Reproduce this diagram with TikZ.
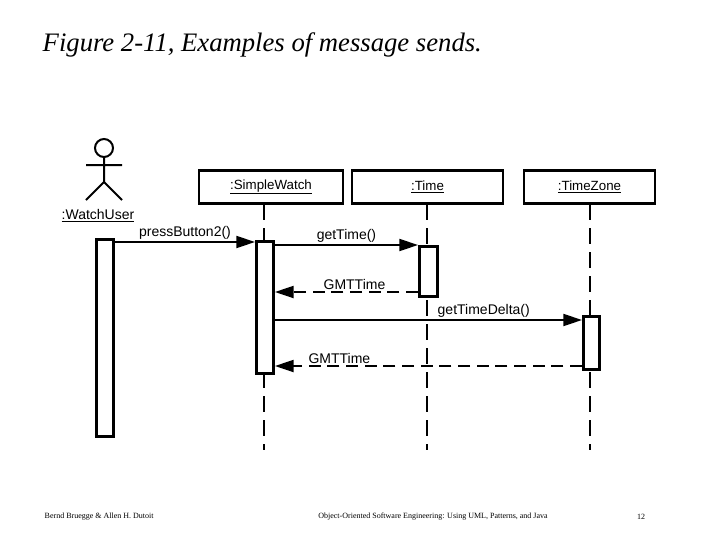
\documentclass[tikz,border=0pt]{standalone}
\usepackage{fontspec}
\setmainfont{Liberation Sans}
\newfontfamily\serif{Liberation Serif}
\usetikzlibrary{arrows.meta}
\begin{document}
\begin{tikzpicture}[x=0.75pt,y=-0.75pt,
  obj/.style={draw,line width=2.2pt,inner sep=0},
  act/.style={draw,line width=2.2pt,fill=white},
  life/.style={line width=2.2pt,dash pattern=on 12pt off 6pt},
  msg/.style={line width=1.5pt,-{Triangle[length=14pt,width=9pt]}},
  ret/.style={line width=1.5pt,dash pattern=on 9pt off 5pt,-{Triangle[length=14pt,width=9pt]}},
  lbl/.style={font=\fontsize{10.5}{12}\selectfont,inner sep=1pt},
  foot/.style={font=\serif\fontsize{6}{7}\selectfont}]
\useasboundingbox (0,0) rectangle (720,540);
\node[anchor=west,font=\serif\itshape\fontsize{20}{24}\selectfont] (title) at (38,45) {Figure 2-11, Examples of message sends.};
% actor
\draw[line width=1.5pt] (104,148) circle (9);
\draw[line width=1.5pt] (104,157) -- (104,182) (86,165) -- (122,165) (86,200) -- (104,182) -- (122,200);
\node[lbl] (wu) at (98,216) {\underline{:WatchUser}};
% objects
\node[obj,minimum width=144*0.75pt,minimum height=33*0.75pt] (sw) at (271,187) {\underline{:SimpleWatch}};
\node[obj,minimum width=151*0.75pt,minimum height=33*0.75pt] (tm) at (427.5,187) {\underline{:Time}};
\node[obj,minimum width=131*0.75pt,minimum height=33*0.75pt] (tz) at (589.5,187) {\underline{:TimeZone}};
\coordinate (swb) at (264,204); \coordinate (swe) at (264,450);
\coordinate (tmb) at (427,204); \coordinate (tme) at (427,450);
\coordinate (tzb) at (590,204); \coordinate (tze) at (590,450);
\draw[life] (swb) -- (swe);
\draw[life] (tmb) -- (tme);
\draw[life] (tzb) -- (tze);
% activations
\node[act,minimum width=17*0.75pt,minimum height=197*0.75pt,anchor=north west] (a0) at (95,238) {};
\node[act,minimum width=17*0.75pt,minimum height=132*0.75pt,anchor=north west] (a1) at (255,240) {};
\node[act,minimum width=18*0.75pt,minimum height=50*0.75pt,anchor=north west] (a2) at (418,245) {};
\node[act,minimum width=16*0.75pt,minimum height=53*0.75pt,anchor=north west] (a3) at (582,315) {};
% messages
\draw[msg] (a0.east|-0,242) -- (a1.west|-0,242) node[lbl,pos=0.5,above,xshift=0pt] {pressButton2()};
\draw[msg] (a1.east|-0,245) -- (a2.west|-0,245) node[lbl,midway,above] {getTime()};
\draw[ret] (a2.west|-0,292) -- (a1.east|-0,292) node[lbl,midway,above,xshift=6] {GMTTime};
\draw[msg] (a1.east|-0,320) -- (a3.west|-0,320) node[lbl,pos=0.68,above] {getTimeDelta()};
\draw[ret] (a3.west|-0,366) -- (a1.east|-0,366) node[lbl,pos=0.79,above] {GMTTime};
% footer
\node[foot,anchor=west] (f1) at (40,517) {Bernd Bruegge \& Allen H. Dutoit};
\node[foot] (f2) at (433,517) {Object-Oriented Software Engineering: Using UML, Patterns, and Java};
\node[foot] (f3) at (641,517) {12};
\end{tikzpicture}
\end{document}
